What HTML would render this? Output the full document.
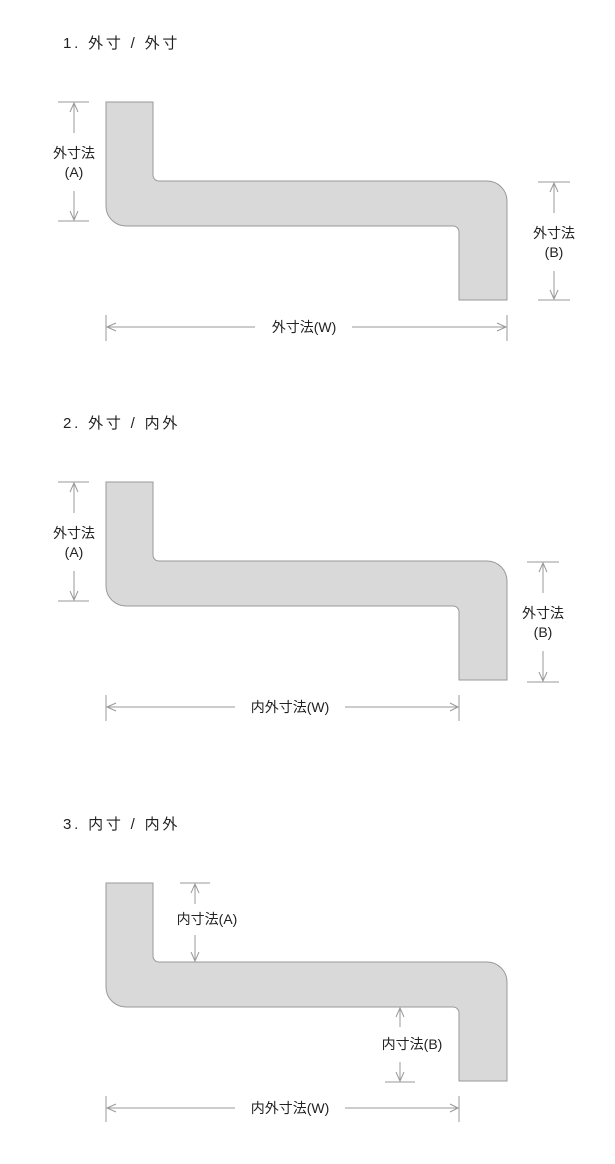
<!DOCTYPE html>
<html><head><meta charset="utf-8"><style>
html,body{margin:0;padding:0;background:#fff;width:615px;height:1164px;overflow:hidden}
svg{display:block}
text{font-family:"Liberation Sans","Noto Sans CJK JP",sans-serif;fill:#222}
</style></head><body>
<svg width="615" height="1164" viewBox="0 0 615 1164" xmlns="http://www.w3.org/2000/svg">
<defs>
<path id="shape" d="M106,102 H153 V175 A6,6 0 0 0 159,181 H487 A20,20 0 0 1 507,201 V300 H459 V232 A6,6 0 0 0 453,226 H126 A20,20 0 0 1 106,206 Z" fill="#d9d9d9" stroke="#999" stroke-width="1"/>
</defs>
<g font-size="15" letter-spacing="2.8">
<text x="63" y="48">1. 外寸 / 外寸</text>
<text x="63" y="428">2. 外寸 / 内外</text>
<text x="63" y="829">3. 内寸 / 内外</text>
</g>
<use href="#shape"/>
<use href="#shape" y="380"/>
<use href="#shape" y="781"/>
<g stroke="#999" stroke-width="1" fill="none">
<path d="M58,102H89 M58,221H89 M74,103V133 M74,191V220 M70,112L74,103L78,112 M70,211L74,220L78,211"/>
<path d="M538,182H570 M538,300H570 M554,183V213 M554,271V299 M550,192L554,183L558,192 M550,290L554,299L558,290"/>
<path d="M106,315V341 M507,315V341 M107,327H255 M352,327H506 M116,323L107,327L116,331 M497,323L506,327L497,331"/>
<path d="M58,482H89 M58,601H89 M74,483V513 M74,571V600 M70,492L74,483L78,492 M70,591L74,600L78,591"/>
<path d="M527,562H559 M527,682H559 M543,563V593 M543,651V681 M539,572L543,563L547,572 M539,672L543,681L547,672"/>
<path d="M106,695V721 M459,695V721 M107,707H235 M345,707H458 M116,703L107,707L116,711 M450,703L458,707L450,711"/>
<path d="M180,883H210 M195,884V904 M195,935V961 M191,893L195,884L199,893 M191,952L195,961L199,952"/>
<path d="M385,1082H415 M400,1008V1027 M400,1062V1081 M396,1017L400,1008L404,1017 M396,1072L400,1081L404,1072"/>
<path d="M106,1096V1122 M459,1096V1122 M107,1108H235 M345,1108H458 M116,1104L107,1108L116,1112 M450,1104L458,1108L450,1112"/>
</g>
<g font-size="14" text-anchor="middle">
<text x="74" y="158">外寸法</text>
<text x="74" y="177">(A)</text>
<text x="554" y="238">外寸法</text>
<text x="554" y="257">(B)</text>
<text x="304" y="332">外寸法(W)</text>
<text x="74" y="538">外寸法</text>
<text x="74" y="557">(A)</text>
<text x="543" y="618">外寸法</text>
<text x="543" y="637">(B)</text>
<text x="290" y="712">内外寸法(W)</text>
<text x="207" y="924">内寸法(A)</text>
<text x="412" y="1049">内寸法(B)</text>
<text x="290" y="1113">内外寸法(W)</text>
</g>
</svg>
</body></html>
